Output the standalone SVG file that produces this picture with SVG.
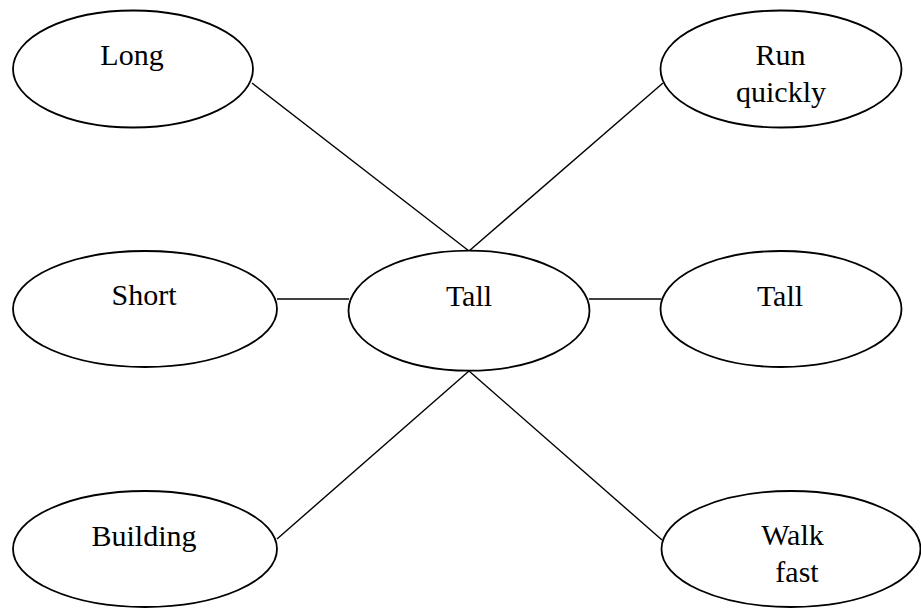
<svg xmlns="http://www.w3.org/2000/svg" width="921" height="609" viewBox="0 0 921 609">
<style>
.n ellipse{fill:#fff;stroke:#000;stroke-width:1.8}
.n text{font-family:"Liberation Serif","Times New Roman",serif;font-size:30px;fill:#000;text-anchor:middle}
#edges line{stroke:#000;stroke-width:1.4}
</style>
<rect width="921" height="609" fill="#fff"/>
<g id="edges">
<line x1="252" y1="83" x2="469" y2="251"/>
<line x1="469" y1="251" x2="663" y2="83"/>
<line x1="277" y1="299" x2="349" y2="299"/>
<line x1="589" y1="299" x2="661" y2="299"/>
<line x1="277" y1="539" x2="469" y2="371"/>
<line x1="469" y1="371" x2="662" y2="540"/>
</g>
<g id="long" class="n"><ellipse cx="133" cy="69" rx="120" ry="58.5"/><text x="132" y="65">Long</text></g>
<g id="run" class="n"><ellipse cx="781" cy="69" rx="120.5" ry="58.5"/><text x="780.5" y="65">Run</text><text x="781" y="102">quickly</text></g>
<g id="short" class="n"><ellipse cx="145" cy="309" rx="132" ry="58"/><text x="144" y="305">Short</text></g>
<g id="tall-center" class="n"><ellipse cx="469" cy="310.7" rx="120.5" ry="60"/><text x="469" y="306">Tall</text></g>
<g id="tall-right" class="n"><ellipse cx="781" cy="309" rx="120.5" ry="58"/><text x="780" y="306">Tall</text></g>
<g id="building" class="n"><ellipse cx="145" cy="549" rx="132" ry="58"/><text x="144" y="546">Building</text></g>
<g id="walk" class="n"><ellipse cx="791" cy="549" rx="129.5" ry="58"/><text x="792.5" y="545">Walk</text><text x="797" y="582">fast</text></g>
</svg>
